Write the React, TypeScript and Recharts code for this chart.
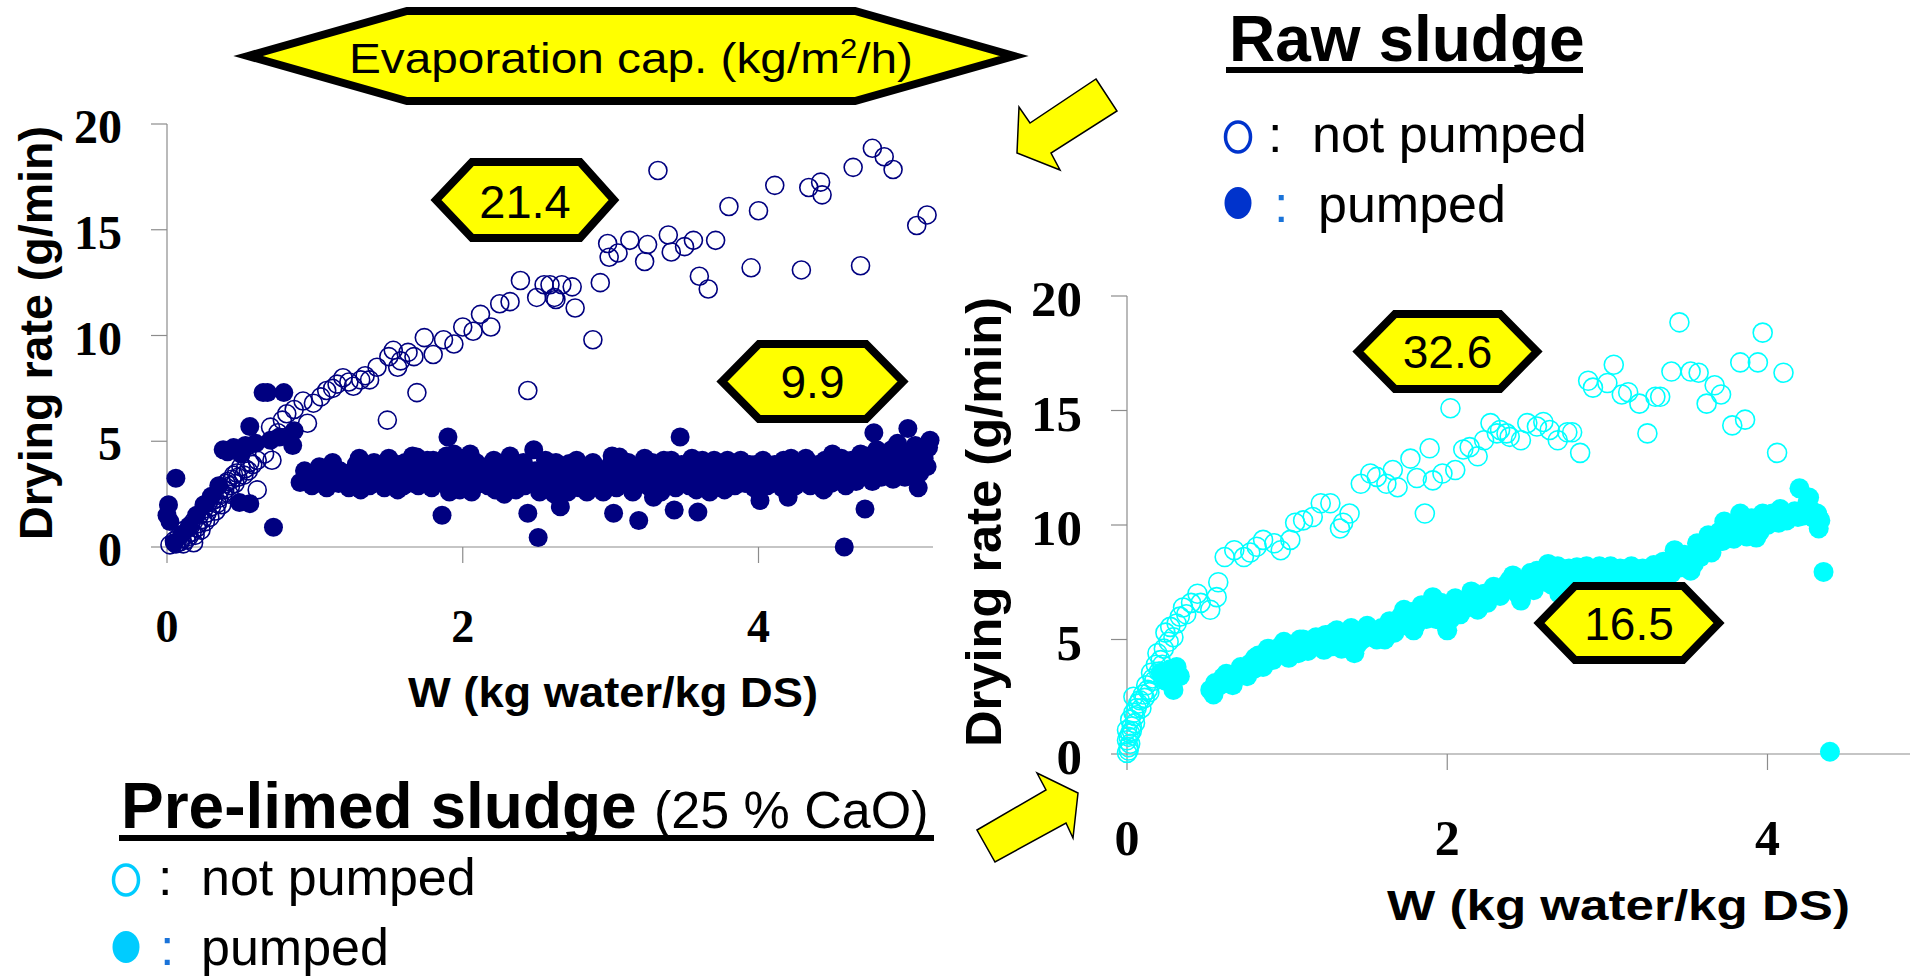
import React from 'react';
import { ScatterChart, Scatter, XAxis, YAxis } from 'recharts';

// ---------- data (x: W kg water/kg DS, y: drying rate g/min) ----------
const xTicks = [0, 2, 4];
const yTicks = [0, 5, 10, 15, 20];

const rawNotPumped: number[][] = [
  [0.02, 0.1], [0.05, 0.3], [0.06, 0.15], [0.08, 0.5], [0.09, 0.25], [0.1, 0.4], [0.11, 0.15], [0.12, 0.8],
  [0.13, 0.35], [0.14, 0.6], [0.15, 0.5], [0.16, 1.0], [0.17, 0.7], [0.18, 0.2], [0.18, 1.2], [0.19, 0.55],
  [0.2, 0.9], [0.21, 1.1], [0.22, 1.5], [0.23, 0.8], [0.24, 1.3], [0.25, 1.8], [0.26, 1.2], [0.27, 1.6],
  [0.28, 2.1], [0.29, 1.4], [0.3, 1.9], [0.31, 2.2], [0.32, 2.4], [0.33, 1.7], [0.34, 2.05], [0.35, 2.3],
  [0.36, 2.7], [0.37, 2.0], [0.38, 2.5], [0.39, 2.7], [0.4, 3.0], [0.41, 3.1], [0.42, 2.5], [0.43, 2.9],
  [0.44, 3.2], [0.45, 3.4], [0.46, 3.0], [0.47, 3.5], [0.48, 3.3], [0.5, 3.8], [0.52, 3.4], [0.53, 3.7],
  [0.55, 3.6], [0.56, 4.0], [0.58, 3.9], [0.61, 4.1], [0.61, 2.7], [0.66, 4.4], [0.7, 5.67], [0.71, 4.1],
  [0.75, 5.4], [0.78, 6.0], [0.81, 6.3], [0.86, 6.5], [0.92, 6.9], [0.95, 5.85], [0.99, 6.8],
  [1.04, 7.1], [1.08, 7.4], [1.12, 7.5], [1.15, 7.7], [1.19, 8.0], [1.23, 7.8], [1.26, 7.6], [1.31, 7.9],
  [1.34, 8.1], [1.37, 7.9], [1.42, 8.5], [1.49, 6.0], [1.5, 9.0], [1.53, 9.3], [1.56, 8.5], [1.58, 8.8],
  [1.63, 9.2], [1.67, 9.0], [1.69, 7.3], [1.74, 9.9], [1.8, 9.1], [1.87, 9.8], [1.94, 9.6], [2.0, 10.4],
  [2.07, 10.2], [2.12, 11.0], [2.19, 10.4], [2.25, 11.5], [2.32, 11.6], [2.39, 12.6], [2.44, 7.4], [2.5, 11.8],
  [2.55, 12.4], [2.59, 12.4], [2.62, 11.8], [2.63, 11.7], [2.67, 12.4], [2.74, 12.3], [2.76, 11.3], [2.88, 9.8],
  [2.93, 12.5], [2.98, 14.35], [2.99, 13.7], [3.05, 13.9], [3.13, 14.5], [3.23, 13.5], [3.25, 14.3], [3.32, 17.8],
  [3.39, 14.75], [3.41, 13.95], [3.5, 14.2], [3.56, 14.5], [3.6, 12.8], [3.66, 12.2], [3.71, 14.5], [3.8, 16.1],
  [3.95, 13.2], [4.0, 15.9], [4.11, 17.1], [4.29, 13.1], [4.34, 17.0], [4.42, 17.25], [4.43, 16.65], [4.64, 17.95],
  [4.69, 13.3], [4.77, 18.85], [4.85, 18.45], [4.91, 17.85], [5.07, 15.2], [5.14, 15.7],
];

const rawPumped: number[][] = [
  [0.0, 1.5], [0.01, 2.0], [0.02, 1.2], [0.05, 0.2], [0.06, 3.25], [0.1, 0.6], [0.15, 1.0], [0.2, 1.5],
  [0.25, 2.0], [0.3, 2.4], [0.35, 2.9], [0.38, 4.6], [0.41, 4.5], [0.45, 4.7], [0.49, 2.1], [0.5, 4.4],
  [0.53, 4.8], [0.56, 5.7], [0.56, 2.05], [0.6, 4.9], [0.65, 7.3], [0.68, 7.3], [0.7, 5.05], [0.72, 0.93],
  [0.76, 5.2], [0.79, 7.3], [0.83, 5.2], [0.85, 4.8], [0.86, 5.5], [0.9, 3.05], [0.93, 3.6], [0.96, 3.2],
  [0.98, 2.9], [1.0, 3.4], [1.03, 3.8], [1.06, 3.15], [1.08, 2.8], [1.1, 3.3], [1.12, 4.0], [1.14, 3.7],
  [1.16, 3.0], [1.17, 3.6], [1.19, 3.5], [1.21, 3.2], [1.23, 2.8], [1.25, 3.4], [1.27, 3.1], [1.28, 3.9],
  [1.3, 4.2], [1.31, 2.7], [1.33, 3.6], [1.35, 3.3], [1.37, 2.9], [1.38, 3.8], [1.4, 4.0], [1.42, 3.5],
  [1.44, 3.4], [1.45, 3.1], [1.47, 2.8], [1.48, 3.9], [1.5, 4.2], [1.52, 3.6], [1.54, 3.2], [1.56, 2.7],
  [1.57, 3.9], [1.58, 3.3], [1.6, 2.9], [1.61, 4.0], [1.63, 3.7], [1.64, 3.4], [1.66, 4.3], [1.67, 3.0],
  [1.69, 4.25], [1.7, 2.9], [1.71, 3.15], [1.73, 3.5], [1.74, 3.8], [1.76, 4.1], [1.77, 3.3], [1.79, 2.8],
  [1.8, 4.1], [1.82, 3.9], [1.83, 3.6], [1.85, 3.2], [1.86, 1.5], [1.88, 3.0], [1.89, 4.3], [1.9, 5.2],
  [1.91, 2.6], [1.92, 3.7], [1.94, 4.4], [1.95, 3.6], [1.96, 3.2], [1.98, 2.7], [1.99, 4.2], [2.01, 3.9],
  [2.03, 3.3], [2.05, 4.4], [2.06, 2.6], [2.08, 3.0], [2.09, 4.0], [2.11, 3.6], [2.12, 3.0], [2.14, 3.5],
  [2.16, 3.8], [2.17, 2.9], [2.19, 3.2], [2.21, 4.1], [2.22, 2.7], [2.24, 3.3], [2.26, 3.9], [2.28, 2.5],
  [2.29, 3.2], [2.3, 3.8], [2.32, 4.3], [2.34, 3.1], [2.36, 2.7], [2.38, 3.4], [2.39, 3.6], [2.41, 4.0],
  [2.42, 2.9], [2.44, 1.6], [2.45, 3.0], [2.46, 3.4], [2.48, 4.6], [2.49, 3.6], [2.51, 0.45], [2.52, 2.6],
  [2.53, 3.0], [2.55, 3.5], [2.56, 4.1], [2.58, 3.9], [2.6, 3.3], [2.62, 2.5], [2.63, 4.0], [2.64, 3.2],
  [2.66, 3.5], [2.66, 1.9], [2.68, 3.1], [2.69, 2.9], [2.71, 2.6], [2.72, 3.95], [2.74, 3.7], [2.75, 3.3],
  [2.77, 4.1], [2.79, 2.8], [2.81, 3.3], [2.83, 3.6], [2.84, 2.6], [2.86, 3.8], [2.88, 4.0], [2.89, 3.1],
  [2.91, 3.6], [2.93, 2.8], [2.95, 2.6], [2.96, 3.4], [2.98, 3.2], [3.0, 3.9], [3.01, 4.3], [3.02, 1.6],
  [3.04, 2.8], [3.06, 4.25], [3.08, 3.5], [3.1, 3.0], [3.12, 4.0], [3.14, 3.15], [3.15, 2.6], [3.17, 3.6],
  [3.18, 3.3], [3.19, 1.25], [3.21, 3.8], [3.23, 4.2], [3.25, 2.9], [3.26, 3.3], [3.28, 4.0], [3.29, 2.35],
  [3.31, 3.1], [3.32, 3.7], [3.34, 2.6], [3.36, 4.1], [3.38, 3.5], [3.39, 2.9], [3.41, 4.1], [3.43, 1.75],
  [3.44, 2.8], [3.46, 3.3], [3.47, 5.2], [3.48, 3.9], [3.5, 3.5], [3.52, 3.1], [3.53, 2.9], [3.55, 4.2],
  [3.56, 3.8], [3.58, 2.7], [3.59, 1.65], [3.61, 3.4], [3.62, 4.1], [3.64, 3.9], [3.65, 3.2], [3.67, 2.6],
  [3.68, 2.8], [3.7, 4.1], [3.72, 3.6], [3.74, 3.3], [3.76, 3.1], [3.77, 2.7], [3.79, 4.1], [3.81, 3.8],
  [3.83, 3.4], [3.84, 2.9], [3.86, 3.0], [3.88, 4.1], [3.9, 3.7], [3.91, 3.0], [3.93, 3.3], [3.94, 3.9],
  [3.95, 3.5], [3.97, 2.8], [3.98, 3.9], [4.0, 3.4], [4.01, 2.2], [4.03, 4.1], [4.04, 3.6], [4.06, 2.9],
  [4.08, 3.3], [4.09, 3.7], [4.11, 3.9], [4.12, 3.4], [4.14, 3.0], [4.16, 2.8], [4.17, 4.1], [4.19, 3.7],
  [4.2, 2.35], [4.22, 4.2], [4.23, 3.5], [4.25, 2.9], [4.27, 3.1], [4.28, 3.6], [4.3, 3.8], [4.32, 4.2],
  [4.33, 3.4], [4.35, 2.9], [4.37, 3.3], [4.38, 3.6], [4.4, 3.9], [4.42, 3.2], [4.44, 2.7], [4.45, 4.1],
  [4.47, 3.6], [4.49, 3.0], [4.5, 4.4], [4.52, 3.8], [4.53, 3.2], [4.55, 3.15], [4.56, 4.2], [4.58, 0.0],
  [4.59, 2.9], [4.61, 3.7], [4.63, 4.1], [4.64, 3.4], [4.66, 3.1], [4.67, 4.0], [4.69, 4.4], [4.7, 3.6],
  [4.72, 1.8], [4.73, 4.3], [4.74, 3.7], [4.76, 3.5], [4.77, 3.1], [4.78, 5.4], [4.8, 4.6], [4.81, 4.1],
  [4.83, 3.3], [4.85, 3.6], [4.87, 3.8], [4.88, 4.3], [4.9, 4.6], [4.91, 3.2], [4.93, 3.6], [4.94, 4.9],
  [4.96, 4.3], [4.97, 3.9], [4.99, 3.3], [5.01, 5.6], [5.02, 4.0], [5.04, 4.5], [5.06, 4.8], [5.07, 4.25],
  [5.08, 2.8], [5.09, 3.5], [5.11, 4.6], [5.12, 4.2], [5.14, 3.8], [5.15, 4.7], [5.16, 5.05],
];

const limedNotPumped: number[][] = [
  [0.0, 0.05], [0.01, 0.15], [0.01, 0.3], [0.02, 0.45], [0.0, 0.6], [0.01, 0.75], [0.02, 0.9], [0.03, 1.0],
  [0.0, 1.05], [0.03, 1.2], [0.02, 1.5], [0.05, 1.35], [0.05, 1.65], [0.04, 1.8], [0.06, 2.0], [0.07, 2.2],
  [0.09, 2.0], [0.04, 2.5], [0.08, 2.35], [0.1, 2.6], [0.11, 2.45], [0.12, 3.0], [0.13, 2.8], [0.14, 2.7],
  [0.15, 3.55], [0.16, 3.3], [0.17, 3.2], [0.18, 3.9], [0.19, 4.4], [0.2, 3.6], [0.21, 4.1], [0.22, 3.9],
  [0.23, 4.6], [0.24, 5.3], [0.26, 4.9], [0.27, 5.55], [0.29, 5.1], [0.31, 5.7], [0.33, 6.0], [0.35, 6.4],
  [0.37, 6.1], [0.4, 6.6], [0.44, 7.0], [0.46, 6.6], [0.52, 6.3], [0.56, 6.85], [0.57, 7.5], [0.61, 8.6],
  [0.67, 8.9], [0.73, 8.6], [0.77, 8.8], [0.81, 9.05], [0.85, 9.35], [0.92, 9.2], [0.96, 8.9], [1.02, 9.35],
  [1.05, 10.1], [1.1, 10.2], [1.16, 10.35], [1.21, 10.95], [1.27, 10.95], [1.33, 9.85], [1.35, 10.1], [1.39, 10.5],
  [1.46, 11.8], [1.52, 12.25], [1.56, 12.1], [1.62, 11.8], [1.66, 12.4], [1.69, 11.65], [1.77, 12.9], [1.81, 12.05],
  [1.86, 10.5], [1.89, 13.35], [1.91, 11.95], [1.97, 12.25], [2.02, 15.1], [2.05, 12.4], [2.1, 13.3], [2.14, 13.4],
  [2.19, 13.0], [2.23, 13.7], [2.27, 14.45], [2.31, 14.0], [2.33, 14.15], [2.37, 14.0], [2.39, 13.85], [2.46, 13.7],
  [2.5, 14.45], [2.56, 14.3], [2.6, 14.5], [2.64, 14.15], [2.69, 13.7], [2.75, 14.05], [2.78, 14.05], [2.83, 13.15],
  [2.88, 16.3], [2.91, 16.0], [3.0, 16.2], [3.04, 17.0], [3.09, 15.7], [3.13, 15.8], [3.2, 15.3], [3.25, 14.0],
  [3.3, 15.6], [3.33, 15.6], [3.4, 16.7], [3.45, 18.85], [3.52, 16.7], [3.57, 16.65], [3.62, 15.3], [3.67, 16.1],
  [3.71, 15.7], [3.78, 14.35], [3.83, 17.1], [3.86, 14.6], [3.94, 17.1], [3.97, 18.4], [4.06, 13.15], [4.1, 16.65],
];

const limedPumped: number[][] = [
  [0.21, 3.55], [0.24, 3.2], [0.27, 3.7], [0.29, 2.8], [0.31, 3.8], [0.33, 3.4], [0.52, 2.8], [0.54, 2.6],
  [0.55, 3.1], [0.58, 3.0], [0.6, 3.35], [0.62, 3.5], [0.64, 3.2], [0.66, 3.0], [0.69, 3.55], [0.71, 3.8],
  [0.73, 3.7], [0.75, 3.4], [0.77, 3.95], [0.79, 3.7], [0.8, 4.2], [0.82, 4.3], [0.83, 3.95], [0.85, 3.8],
  [0.86, 4.2], [0.88, 4.6], [0.9, 4.4], [0.91, 4.1], [0.93, 4.3], [0.95, 4.4], [0.96, 4.7], [0.98, 4.9],
  [0.99, 4.5], [1.01, 4.2], [1.02, 4.55], [1.04, 4.6], [1.05, 4.8], [1.07, 4.4], [1.08, 5.0], [1.1, 5.0],
  [1.11, 4.7], [1.13, 4.5], [1.14, 4.85], [1.16, 4.9], [1.18, 5.1], [1.2, 4.7], [1.23, 4.55], [1.24, 5.2],
  [1.26, 5.0], [1.28, 4.7], [1.29, 5.3], [1.31, 5.4], [1.32, 5.0], [1.34, 4.6], [1.35, 4.85], [1.37, 5.0],
  [1.38, 5.2], [1.4, 5.5], [1.42, 4.4], [1.44, 4.8], [1.45, 5.1], [1.47, 5.0], [1.48, 5.3], [1.5, 5.6],
  [1.52, 5.2], [1.54, 5.1], [1.56, 5.0], [1.58, 5.3], [1.59, 5.5], [1.61, 5.0], [1.62, 5.4], [1.64, 5.8],
  [1.66, 5.6], [1.67, 5.3], [1.69, 5.7], [1.71, 6.0], [1.73, 6.3], [1.75, 5.6], [1.76, 5.8], [1.78, 6.2],
  [1.79, 5.4], [1.81, 5.7], [1.82, 6.1], [1.84, 6.5], [1.85, 6.0], [1.87, 5.9], [1.88, 6.4], [1.9, 6.2],
  [1.91, 6.85], [1.93, 5.9], [1.94, 6.2], [1.96, 6.6], [1.97, 5.8], [1.99, 6.1], [2.0, 5.4], [2.02, 5.9],
  [2.03, 6.5], [2.05, 6.8], [2.06, 6.3], [2.08, 6.1], [2.1, 6.6], [2.12, 6.4], [2.14, 6.85], [2.15, 7.1],
  [2.17, 6.5], [2.18, 6.6], [2.19, 6.3], [2.21, 6.9], [2.23, 7.0], [2.25, 6.6], [2.27, 6.85], [2.29, 7.3],
  [2.31, 7.2], [2.33, 6.9], [2.35, 7.15], [2.37, 7.4], [2.39, 7.6], [2.41, 7.8], [2.42, 7.3], [2.44, 7.0],
  [2.46, 6.7], [2.48, 7.6], [2.5, 7.4], [2.52, 7.9], [2.54, 7.15], [2.56, 8.0], [2.58, 7.5], [2.6, 7.8],
  [2.62, 8.0], [2.63, 8.3], [2.65, 7.4], [2.67, 7.6], [2.69, 8.2], [2.7, 7.9], [2.7, 7.0], [2.72, 7.5],
  [2.74, 7.7], [2.76, 8.1], [2.78, 7.8], [2.8, 7.6], [2.81, 8.15], [2.83, 7.9], [2.85, 7.7], [2.87, 8.2],
  [2.89, 7.9], [2.91, 7.6], [2.93, 7.8], [2.95, 8.2], [2.96, 8.05], [2.98, 7.6], [3.0, 7.8], [3.02, 8.2],
  [3.03, 7.9], [3.05, 7.6], [3.06, 7.75], [3.08, 8.1], [3.1, 7.95], [3.12, 7.6], [3.13, 7.8], [3.15, 8.2],
  [3.16, 8.05], [3.18, 7.6], [3.2, 7.8], [3.22, 8.1], [3.24, 7.9], [3.26, 7.6], [3.29, 8.25], [3.31, 7.9],
  [3.33, 7.75], [3.35, 8.4], [3.38, 8.1], [3.4, 7.9], [3.42, 8.9], [3.44, 8.5], [3.46, 8.15], [3.48, 8.7],
  [3.5, 8.5], [3.52, 8.0], [3.54, 8.3], [3.56, 9.2], [3.58, 8.6], [3.6, 8.9], [3.62, 9.1], [3.63, 9.55],
  [3.65, 8.8], [3.67, 9.2], [3.69, 9.4], [3.7, 9.7], [3.72, 9.3], [3.73, 10.15], [3.75, 9.9], [3.77, 9.65],
  [3.79, 9.4], [3.8, 10.0], [3.82, 9.8], [3.83, 10.5], [3.85, 10.2], [3.87, 9.5], [3.89, 9.8], [3.9, 10.3],
  [3.92, 10.1], [3.93, 9.45], [3.95, 9.7], [3.97, 10.5], [3.99, 10.3], [4.0, 10.0], [4.02, 10.2], [4.03, 10.5],
  [4.05, 10.4], [4.07, 10.1], [4.08, 10.7], [4.1, 10.5], [4.12, 10.2], [4.14, 10.4], [4.15, 10.5], [4.17, 10.6],
  [4.19, 10.35], [4.2, 11.6], [4.22, 10.4], [4.25, 11.0], [4.26, 11.2], [4.28, 10.6], [4.29, 10.3], [4.31, 10.5],
  [4.32, 9.85], [4.33, 10.2], [4.35, 7.95], [4.39, 0.1],
];

const toPts = (a: number[][]) => a.map(([x, y]) => ({ x, y }));

const SANS = '"Liberation Sans", Arial, sans-serif';
const SERIF = '"Liberation Serif", "Times New Roman", serif';
const NAVY = '#000080';
const CYAN = '#00FFFF';
const AXIS = '#8c8c8c';

const openShape = (color: string, r: number) => (p: any) =>
  <circle cx={p.cx} cy={p.cy} r={r} fill="none" stroke={color} strokeWidth={1.6} />;
const filledShape = (color: string, r: number) => (p: any) =>
  <circle cx={p.cx} cy={p.cy} r={r} fill={color} stroke="none" />;

const yTick = (fs: number, dy: number) => (p: any) => (
  <text x={p.x} y={p.y + dy} textAnchor="end" fontFamily={SERIF} fontWeight="bold" fontSize={fs} fill="#000">
    {p.payload.value}
  </text>
);
const xTick = (fs: number, dy: number) => (p: any) => (
  <text x={p.x} y={p.y + dy} textAnchor="middle" fontFamily={SERIF} fontWeight="bold" fontSize={fs} fill="#000">
    {p.payload.value}
  </text>
);

const hexPts = (l: number, r: number, t: number, b: number, fl: number, fr: number) => {
  const m = (t + b) / 2;
  return `${l},${m} ${fl},${t} ${fr},${t} ${r},${m} ${fr},${b} ${fl},${b}`;
};

const Hex = ({ l, r, t, b, fl, fr, label, fs, base }: any) => (
  <g>
    <polygon points={hexPts(l, r, t, b, fl, fr)} fill="#FFFF00" stroke="#000" strokeWidth={8} strokeLinejoin="miter" />
    <text x={(l + r) / 2} y={base} textAnchor="middle" fontFamily={SANS} fontSize={fs} fill="#000">{label}</text>
  </g>
);

export default function App() {
  return (
    <div style={{ position: 'relative', width: 1912, height: 976, background: '#fff', overflow: 'hidden' }}>
      <style>{'body{margin:0}'}</style>

      {/* Left chart: raw sludge (navy) */}
      <div style={{ position: 'absolute', left: 0, top: 0 }}>
        <ScatterChart width={960} height={660} margin={{ top: 124, right: 27, bottom: 0, left: 0 }}>
          <XAxis
            type="number" dataKey="x" domain={[0, 5.18]} ticks={xTicks} interval={0}
            height={113} tickSize={16} tickMargin={0}
            axisLine={{ stroke: AXIS, strokeWidth: 1.2 }} tickLine={{ stroke: AXIS, strokeWidth: 1.2 }}
            tick={xTick(46, 79)}
          />
          <YAxis
            type="number" dataKey="y" domain={[0, 20]} ticks={yTicks} interval={0}
            width={167} tickSize={16} tickMargin={29}
            axisLine={{ stroke: AXIS, strokeWidth: 1.2 }} tickLine={{ stroke: AXIS, strokeWidth: 1.2 }}
            tick={yTick(48, 19)}
          />
          <Scatter data={toPts(rawPumped)} shape={filledShape(NAVY, 9.5)} isAnimationActive={false} />
          <Scatter data={toPts(rawNotPumped)} shape={openShape(NAVY, 9)} isAnimationActive={false} />
        </ScatterChart>
      </div>

      {/* Right chart: pre-limed sludge (cyan) */}
      <div style={{ position: 'absolute', left: 960, top: 0 }}>
        <ScatterChart width={952} height={960} margin={{ top: 296, right: 2, bottom: 0, left: 0 }}>
          <XAxis
            type="number" dataKey="x" domain={[0, 4.89]} ticks={xTicks} interval={0}
            height={206} tickSize={16} tickMargin={0}
            axisLine={{ stroke: AXIS, strokeWidth: 1.2 }} tickLine={{ stroke: AXIS, strokeWidth: 1.2 }}
            tick={xTick(50, 85)}
          />
          <YAxis
            type="number" dataKey="y" domain={[0, 20]} ticks={yTicks} interval={0}
            width={167} tickSize={16} tickMargin={29}
            axisLine={{ stroke: AXIS, strokeWidth: 1.2 }} tickLine={{ stroke: AXIS, strokeWidth: 1.2 }}
            tick={yTick(51, 20)}
          />
          <Scatter data={toPts(limedPumped)} shape={filledShape(CYAN, 10)} isAnimationActive={false} />
          <Scatter data={toPts(limedNotPumped)} shape={openShape(CYAN, 9.5)} isAnimationActive={false} />
        </ScatterChart>
      </div>

      {/* Axis titles and annotations */}
      <svg width={1912} height={976} style={{ position: 'absolute', left: 0, top: 0, pointerEvents: 'none' }}>
        <text x={613} y={707} textAnchor="middle" fontFamily={SANS} fontWeight="bold" fontSize={42} textLength={410} lengthAdjust="spacingAndGlyphs">W (kg water/kg DS)</text>
        <text x={52} y={333} transform="rotate(-90 52 333)" textAnchor="middle" fontFamily={SANS} fontWeight="bold" fontSize={47} textLength={414} lengthAdjust="spacingAndGlyphs">Drying rate (g/min)</text>
        <text x={1618.5} y={920} textAnchor="middle" fontFamily={SANS} fontWeight="bold" fontSize={42} textLength={463} lengthAdjust="spacingAndGlyphs">W (kg water/kg DS)</text>
        <text x={1001} y={522} transform="rotate(-90 1001 522)" textAnchor="middle" fontFamily={SANS} fontWeight="bold" fontSize={50} textLength={450} lengthAdjust="spacingAndGlyphs">Drying rate (g/min)</text>

        {/* Evaporation capacity banner */}
        <polygon points={hexPts(248, 1014, 11, 101, 407, 855)} fill="#FFFF00" stroke="#000" strokeWidth={8} />
        <text x={631} y={73} textAnchor="middle" fontFamily={SANS} fontSize={43} textLength={564} lengthAdjust="spacingAndGlyphs">
          Evaporation cap. (kg/m<tspan fontSize={28} dy={-15}>2</tspan><tspan dy={15}>/h)</tspan>
        </text>

        <Hex l={436} r={614} t={162} b={238} fl={472} fr={580} label="21.4" fs={47} base={218} />
        <Hex l={722} r={903} t={344} b={419} fl={759} fr={866} label="9.9" fs={46} base={398} />
        <Hex l={1358} r={1537} t={314} b={389} fl={1395} fr={1500} label="32.6" fs={46} base={368} />
        <Hex l={1539} r={1719} t={586} b={660} fl={1575} fr={1683} label="16.5" fs={46} base={640} />

        {/* arrows */}
        <polygon points="1096,79 1117,111 1051,153 1060,170 1017,153 1019,107 1030,123" fill="#FFFF00" stroke="#000" strokeWidth={1.5} strokeLinejoin="miter" />
        <polygon points="977,830 1046,790 1037,773 1078,793 1073,838 1066,823 995,862" fill="#FFFF00" stroke="#000" strokeWidth={1.5} strokeLinejoin="miter" />

        {/* Raw sludge legend */}
        <text x={1229} y={61} fontFamily={SANS} fontWeight="bold" fontSize={64}>Raw sludge</text>
        <rect x={1226} y={67} width={357} height={6} fill="#000" />
        <ellipse cx={1238} cy={137} rx={12.5} ry={15} fill="none" stroke="#0033CC" strokeWidth={3.5} />
        <text x={1268} y={152} fontFamily={SANS} fontSize={52}>:</text>
        <text x={1312} y={152} fontFamily={SANS} fontSize={52}>not pumped</text>
        <ellipse cx={1238} cy={203} rx={13.5} ry={16} fill="#0033CC" />
        <text x={1274} y={222} fontFamily={SANS} fontSize={52} fill="#1a73d9">:</text>
        <text x={1318} y={222} fontFamily={SANS} fontSize={52}>pumped</text>

        {/* Pre-limed sludge legend */}
        <text x={121} y={828} fontFamily={SANS} fontWeight="bold" fontSize={64}>Pre-limed sludge</text>
        <text x={654} y={828} fontFamily={SANS} fontSize={52}>(25 % CaO)</text>
        <rect x={119} y={835} width={815} height={6} fill="#000" />
        <ellipse cx={126} cy={880} rx={12.5} ry={15} fill="none" stroke="#00CCFF" strokeWidth={3.5} />
        <text x={158} y={895} fontFamily={SANS} fontSize={52}>:</text>
        <text x={201} y={895} fontFamily={SANS} fontSize={52}>not pumped</text>
        <ellipse cx={126} cy={947} rx={13.5} ry={16} fill="#00CCFF" />
        <text x={160} y={965} fontFamily={SANS} fontSize={52} fill="#1a73d9">:</text>
        <text x={201} y={965} fontFamily={SANS} fontSize={52}>pumped</text>
      </svg>
    </div>
  );
}
